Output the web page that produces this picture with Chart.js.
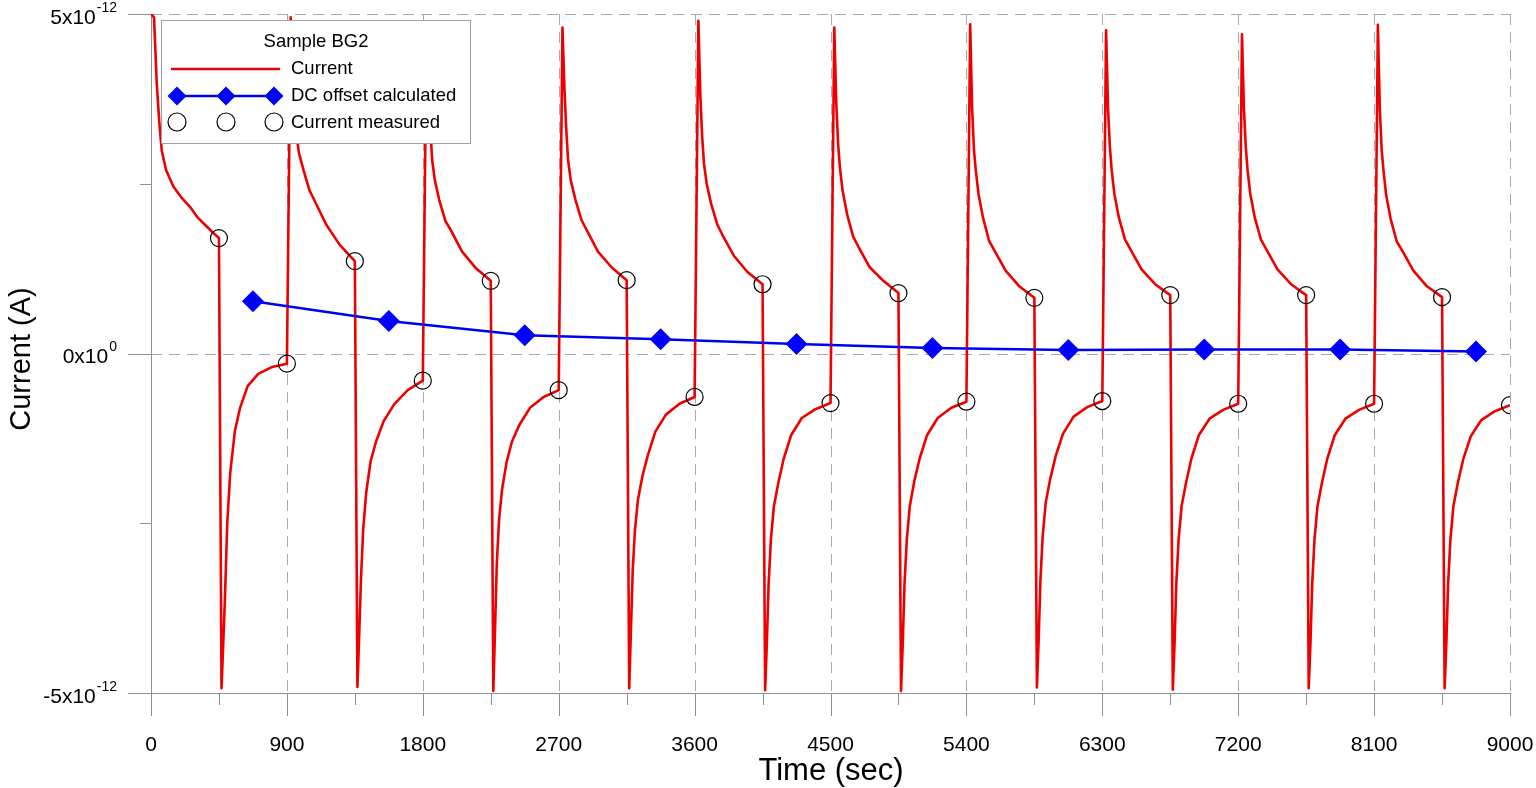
<!DOCTYPE html>
<html>
<head>
<meta charset="utf-8">
<script src="https://cdn.jsdelivr.net/npm/chart.js@4.4.1/dist/chart.umd.min.js"></script>
<style>
  html, body { margin: 0; padding: 0; background: #fff; }
  #chart { display: block; }
</style>
</head>
<body>
<canvas id="chart" width="1536" height="788"></canvas>
<script>
// Current values are in pA (1x10^-12 A), time in seconds
// red trace: [time, current], one row per half cycle
const currentTrace = [
    [0, 5.0], [20, 4.95], [38, 3.98], [55, 3.4], [71, 2.99], [100, 2.7], [148, 2.46], [200, 2.3], [258, 2.16], [310, 2.0], [369, 1.87], [410, 1.78], [450, 1.70],
    [467, -4.93], [478, -4.3], [490, -3.58], [505, -2.5], [525, -1.75], [555, -1.15], [590, -0.8], [640, -0.48], [710, -0.3], [800, -0.2], [900, -0.15],
    [925, 4.95], [938, 4.1], [950, 3.6], [962, 3.25], [980, 2.95], [1010, 2.7], [1050, 2.4], [1090, 2.22], [1160, 1.9], [1250, 1.6], [1350, 1.36],
    [1367, -4.91], [1378, -4.2], [1390, -3.35], [1405, -2.6], [1425, -2.05], [1455, -1.58], [1490, -1.3], [1540, -1.0], [1610, -0.75], [1700, -0.54], [1800, -0.40],
    [1825, 4.85], [1838, 3.9], [1850, 3.3], [1862, 2.85], [1880, 2.55], [1910, 2.25], [1950, 1.95], [1990, 1.8], [2060, 1.5], [2150, 1.26], [2250, 1.07],
    [2267, -4.97], [2278, -4.1], [2290, -3.1], [2305, -2.45], [2325, -2.0], [2355, -1.6], [2390, -1.3], [2440, -1.05], [2510, -0.8], [2600, -0.64], [2700, -0.54],
    [2725, 4.8], [2738, 3.9], [2750, 3.3], [2762, 2.85], [2780, 2.55], [2810, 2.27], [2850, 1.97], [2890, 1.8], [2960, 1.5], [3050, 1.27], [3150, 1.08],
    [3167, -4.93], [3178, -4.1], [3190, -3.2], [3205, -2.6], [3225, -2.15], [3255, -1.8], [3290, -1.5], [3340, -1.15], [3410, -0.9], [3500, -0.74], [3600, -0.64],
    [3625, 4.9], [3638, 3.8], [3650, 3.2], [3662, 2.8], [3680, 2.5], [3710, 2.2], [3750, 1.9], [3790, 1.72], [3860, 1.44], [3950, 1.2], [4050, 1.02],
    [4067, -4.96], [4078, -4.3], [4090, -3.4], [4105, -2.75], [4125, -2.25], [4155, -1.9], [4190, -1.55], [4240, -1.2], [4310, -0.95], [4400, -0.82], [4500, -0.73],
    [4525, 4.8], [4538, 3.7], [4550, 3.1], [4562, 2.75], [4580, 2.4], [4610, 2.05], [4650, 1.72], [4690, 1.55], [4760, 1.27], [4850, 1.07], [4950, 0.89],
    [4967, -4.97], [4978, -4.3], [4990, -3.4], [5005, -2.75], [5025, -2.25], [5055, -1.88], [5090, -1.55], [5140, -1.2], [5210, -0.95], [5300, -0.8], [5400, -0.71],
    [5425, 4.85], [5438, 3.6], [5450, 3.0], [5462, 2.7], [5480, 2.35], [5510, 2.0], [5550, 1.66], [5590, 1.5], [5660, 1.22], [5750, 0.99], [5850, 0.82],
    [5867, -4.92], [5878, -4.25], [5890, -3.35], [5905, -2.7], [5925, -2.2], [5955, -1.85], [5990, -1.52], [6040, -1.18], [6110, -0.93], [6200, -0.79], [6300, -0.70],
    [6325, 4.76], [6338, 3.6], [6350, 3.05], [6362, 2.7], [6380, 2.35], [6410, 2.0], [6450, 1.68], [6490, 1.52], [6560, 1.24], [6650, 1.02], [6750, 0.86],
    [6767, -4.95], [6778, -4.3], [6790, -3.4], [6805, -2.75], [6825, -2.25], [6855, -1.9], [6890, -1.55], [6940, -1.2], [7010, -0.96], [7100, -0.83], [7200, -0.74],
    [7225, 4.7], [7238, 3.6], [7250, 3.05], [7262, 2.7], [7280, 2.35], [7310, 2.0], [7350, 1.68], [7390, 1.52], [7460, 1.24], [7550, 1.02], [7650, 0.86],
    [7667, -4.93], [7678, -4.3], [7690, -3.4], [7705, -2.75], [7725, -2.25], [7755, -1.9], [7790, -1.55], [7840, -1.2], [7910, -0.96], [8000, -0.83], [8100, -0.74],
    [8125, 4.84], [8138, 3.6], [8150, 3.0], [8162, 2.7], [8180, 2.33], [8210, 1.98], [8250, 1.65], [8290, 1.5], [8360, 1.22], [8450, 0.99], [8550, 0.83],
    [8567, -4.93], [8578, -4.3], [8590, -3.4], [8605, -2.75], [8625, -2.25], [8655, -1.9], [8690, -1.56], [8740, -1.22], [8810, -0.98], [8900, -0.85], [9000, -0.76]
];

const measuredTime = [450, 900, 1350, 1800, 2250, 2700, 3150, 3600, 4050, 4500, 4950, 5400, 5850, 6300, 6750, 7200, 7650, 8100, 8550, 9000];
const measuredCurrent = [1.70, -0.15, 1.36, -0.40, 1.07, -0.54, 1.08, -0.64, 1.02, -0.73, 0.89, -0.71, 0.82, -0.70, 0.86, -0.74, 0.86, -0.74, 0.83, -0.76];

const offsetTime = [675, 1575, 2475, 3375, 4275, 5175, 6075, 6975, 7875, 8775];
const offsetCurrent = [0.77, 0.48, 0.27, 0.21, 0.14, 0.08, 0.05, 0.06, 0.06, 0.03];

const xMajorTicks = [0, 900, 1800, 2700, 3600, 4500, 5400, 6300, 7200, 8100, 9000];
const xMinorTicks = [450, 1350, 2250, 3150, 4050, 4950, 5850, 6750, 7650, 8550];
const xTickLabels = ['0', '900', '1800', '2700', '3600', '4500', '5400', '6300', '7200', '8100', '9000'];
const yMajorTicks = [5, 0, -5];
const yMinorTicks = [2.5, -2.5];
const yTickLabels = [['5x10', '-12'], ['0x10', '0'], ['-5x10', '-12']];

const FONT = '"Liberation Sans", Arial, sans-serif';
const RED = '#ee0000';
const BLUE = '#0000f0';

function line(ctx, x1, y1, x2, y2) {
    ctx.beginPath();
    ctx.moveTo(x1, y1);
    ctx.lineTo(x2, y2);
    ctx.stroke();
}

function diamond(ctx, x, y, r) {
    ctx.beginPath();
    ctx.moveTo(x, y - r);
    ctx.lineTo(x + r, y);
    ctx.lineTo(x, y + r);
    ctx.lineTo(x - r, y);
    ctx.closePath();
    ctx.fill();
}

// axes, dashed grid, tick marks, labels and the boxed legend
const framePlugin = {
    id: 'frame',
    beforeDatasetsDraw(chart) {
        const { ctx, chartArea: a, scales: { x, y } } = chart;
        ctx.save();
        ctx.lineWidth = 1;

        ctx.strokeStyle = '#a9a9a9';
        ctx.setLineDash([11, 7]);
        xMajorTicks.slice(1).forEach(v => {
            const px = Math.round(x.getPixelForValue(v)) + 0.5;
            line(ctx, px, a.top, px, a.bottom);
        });
        [0, 5].forEach(v => {
            const py = Math.round(y.getPixelForValue(v)) + 0.5;
            line(ctx, a.left, py, a.right, py);
        });
        ctx.setLineDash([]);

        ctx.strokeStyle = '#8f8f8f';
        const left = Math.round(a.left) + 0.5;
        const bottom = Math.round(a.bottom) + 0.5;
        line(ctx, left, a.top, left, a.bottom);
        line(ctx, a.left, bottom, a.right, bottom);
        xMajorTicks.forEach(v => {
            const px = Math.round(x.getPixelForValue(v)) + 0.5;
            line(ctx, px, a.bottom, px, a.bottom + 23);
        });
        xMinorTicks.forEach(v => {
            const px = Math.round(x.getPixelForValue(v)) + 0.5;
            line(ctx, px, a.bottom, px, a.bottom + 12);
        });
        yMajorTicks.forEach(v => {
            const py = Math.round(y.getPixelForValue(v)) + 0.5;
            line(ctx, a.left - 23, py, a.left, py);
        });
        yMinorTicks.forEach(v => {
            const py = Math.round(y.getPixelForValue(v)) + 0.5;
            line(ctx, a.left - 11, py, a.left, py);
        });
        ctx.restore();
    },
    afterDatasetsDraw(chart) {
        const { ctx, scales: { x, y } } = chart;
        ctx.save();
        ctx.fillStyle = '#000';

        // x tick labels
        ctx.font = '21px ' + FONT;
        ctx.textAlign = 'center';
        ctx.textBaseline = 'middle';
        xMajorTicks.forEach((v, i) => {
            ctx.fillText(xTickLabels[i], x.getPixelForValue(v), 745);
        });

        // y tick labels with superscript exponent
        ctx.textAlign = 'right';
        yMajorTicks.forEach((v, i) => {
            const py = y.getPixelForValue(v) + 4;
            const [mant, exp] = yTickLabels[i];
            ctx.font = '14px ' + FONT;
            const we = ctx.measureText(exp).width;
            ctx.fillText(exp, 117, py - 10);
            ctx.font = '21px ' + FONT;
            ctx.fillText(mant, 117 - we - 1, py);
        });

        // axis titles
        ctx.font = '31px ' + FONT;
        ctx.textAlign = 'center';
        ctx.fillText('Time (sec)', 831, 771);
        ctx.font = '29px ' + FONT;
        ctx.save();
        ctx.translate(22, 359);
        ctx.rotate(-Math.PI / 2);
        ctx.fillText('Current (A)', 0, 0);
        ctx.restore();

        // legend box
        ctx.fillStyle = '#fff';
        ctx.fillRect(161, 20, 309, 123);
        ctx.strokeStyle = '#a0a0a0';
        ctx.lineWidth = 1;
        ctx.strokeRect(161.5, 20.5, 309, 123);

        ctx.fillStyle = '#000';
        ctx.font = '18.5px ' + FONT;
        ctx.textAlign = 'center';
        ctx.fillText('Sample BG2', 316, 42);
        ctx.textAlign = 'left';
        ctx.fillText('Current', 291, 69);
        ctx.fillText('DC offset calculated', 291, 96);
        ctx.fillText('Current measured', 291, 123);

        ctx.lineWidth = 2.5;
        ctx.strokeStyle = RED;
        line(ctx, 171, 69, 280, 69);
        ctx.strokeStyle = BLUE;
        line(ctx, 177, 96, 274, 96);
        ctx.fillStyle = '#0000ff';
        [177, 226, 274].forEach(px => diamond(ctx, px, 96, 9.5));
        ctx.strokeStyle = '#000';
        ctx.lineWidth = 1.2;
        [177, 226, 274].forEach(px => {
            ctx.beginPath();
            ctx.arc(px, 122, 9, 0, Math.PI * 2);
            ctx.stroke();
        });
        ctx.restore();
    }
};

document.addEventListener('DOMContentLoaded', function() {
    const ctx = document.getElementById('chart').getContext('2d');

    new Chart(ctx, {
        type: 'scatter',
        data: {
            datasets: [{
                label: 'Current measured',
                data: measuredTime.map((t, i) => ({ x: t, y: measuredCurrent[i] })),
                showLine: false,
                pointStyle: 'circle',
                pointRadius: 8.5,
                borderColor: '#000',
                borderWidth: 1.2,
                backgroundColor: 'rgba(0,0,0,0)'
            }, {
                label: 'DC offset calculated',
                data: offsetTime.map((t, i) => ({ x: t, y: offsetCurrent[i] })),
                showLine: true,
                borderColor: BLUE,
                borderWidth: 2.5,
                pointStyle: 'rectRot',
                pointRadius: 11,
                pointBackgroundColor: '#0000ff',
                pointBorderColor: '#0000ff',
                pointBorderWidth: 0
            }, {
                label: 'Current',
                data: currentTrace.map(p => ({ x: p[0], y: p[1] })),
                showLine: true,
                borderColor: RED,
                borderWidth: 2.6,
                borderJoinStyle: 'round',
                pointRadius: 0,
                tension: 0
            }]
        },
        options: {
            responsive: false,
            animation: false,
            events: [],
            layout: { padding: { left: 0, right: 26, top: 14, bottom: 0 } },
            plugins: {
                legend: { display: false },
                tooltip: { enabled: false }
            },
            scales: {
                x: {
                    type: 'linear',
                    min: 0,
                    max: 9000,
                    afterFit: s => { s.height = 95; },
                    ticks: { display: false, stepSize: 900 },
                    grid: { display: false },
                    border: { display: false }
                },
                y: {
                    type: 'linear',
                    min: -5,
                    max: 5,
                    afterFit: s => { s.width = 151; },
                    ticks: { display: false },
                    grid: { display: false },
                    border: { display: false }
                }
            }
        },
        plugins: [framePlugin]
    });
});
</script>
</body>
</html>
